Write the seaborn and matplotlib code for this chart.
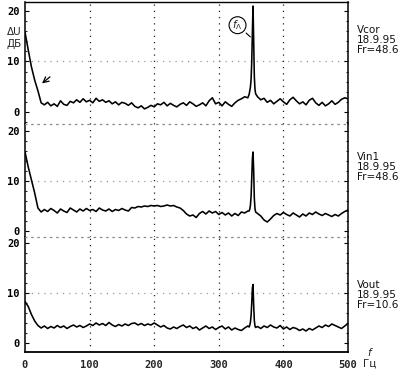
import numpy as np
import pandas as pd
import matplotlib
matplotlib.use("Agg")
import matplotlib.pyplot as plt
import seaborn as sns
from matplotlib.ticker import MultipleLocator

sns.set_style("white")
plt.rcParams['font.family'] = ['DejaVu Sans']

# frequency grid: coarse band, fine band around the line, coarse band
freq = np.concatenate([np.arange(0, 350, 5), np.arange(347, 358, 1), np.arange(360, 505, 5)])

vcor = [15.8, 12.3, 8.9, 6.3, 4.2, 1.8, 1.4, 1.9, 1.2, 1.6,
        1.1, 2.2, 1.5, 1.3, 2.1, 1.8, 2.4, 1.9, 2.6, 2.0,
        2.3, 1.8, 2.7, 2.1, 2.4, 1.9, 2.2, 1.6, 2.0, 1.4,
        1.9, 1.7, 1.3, 1.8, 1.1, 0.8, 1.2, 0.6, 0.9, 1.3,
        1.0, 1.6, 1.4, 1.9, 1.2, 1.7, 1.3, 1.0, 1.5, 1.8,
        1.3, 2.0, 1.6, 1.1, 1.4, 1.8, 1.2, 2.2, 2.8, 1.6,
        1.9, 1.2, 2.0, 1.5, 1.1, 1.8, 2.3, 2.6, 3.0, 2.8,
        3.5, 4.2, 5.0, 6.5, 10.0, 16.0, 21.0, 14.0, 7.0, 4.5, 3.6,
        3.0, 2.4, 2.7, 1.9, 2.3, 1.6, 2.1, 2.6, 2.0, 1.5,
        2.4, 2.9, 2.2, 1.6, 2.0, 1.4, 2.3, 2.7, 1.8, 1.3,
        1.9, 1.2, 1.6, 2.2, 1.5, 1.9, 2.5, 2.8, 2.6]

vin1 = [15.8, 12.8, 10.2, 7.6, 4.6, 3.8, 4.3, 3.9, 4.5, 4.1,
        3.6, 4.4, 4.0, 3.7, 4.6, 4.2, 3.8, 4.4, 4.0, 4.5,
        4.1, 4.3, 3.9, 4.6, 4.2, 4.0, 4.4, 3.9, 4.3, 4.1,
        4.5, 4.2, 4.0, 4.7, 4.6, 4.9, 4.8, 5.0, 4.9, 5.1,
        5.0, 5.1, 4.9, 5.0, 5.2, 5.0, 5.1, 4.8, 4.6, 4.1,
        3.4, 3.0, 3.2, 2.7, 3.5, 3.9, 3.4, 4.0, 3.6, 3.9,
        3.3, 3.7, 3.2, 3.6, 3.0, 3.5, 3.1, 3.8, 3.6, 4.0,
        4.0, 4.4, 5.2, 7.0, 10.5, 14.5, 15.8, 12.0, 6.5, 4.5, 3.8,
        3.5, 3.0, 2.2, 1.8, 2.4, 3.1, 3.5, 3.2, 3.7, 3.3,
        3.0, 3.6, 3.2, 2.8, 3.4, 3.0, 3.6, 3.3, 3.8, 3.4,
        3.1, 3.5, 3.2, 2.9, 3.3, 3.0, 3.5, 3.9, 4.2]

vout = [8.3, 7.3, 5.7, 4.4, 3.5, 3.0, 3.4, 2.9, 3.3, 3.0,
        3.5, 3.1, 3.4, 2.9, 3.3, 3.6, 3.2, 3.5, 3.1, 3.4,
        3.8, 3.5, 4.0, 3.6, 3.9, 3.5, 4.1, 3.6, 3.3, 3.7,
        3.4, 3.8, 3.5, 3.9, 4.0, 3.6, 3.9, 3.5, 3.8, 3.6,
        4.0, 3.6, 3.2, 3.5, 3.0, 2.8, 3.2, 2.9, 3.3, 3.6,
        3.1, 3.4, 2.9, 3.2, 2.6, 3.0, 3.4, 2.9, 3.2, 2.7,
        3.1, 3.4, 2.8, 3.2, 2.6, 3.0, 2.7, 2.5, 3.0, 3.4,
        3.2, 3.6, 4.2, 5.5, 8.0, 11.0, 11.7, 7.5, 4.5, 3.4, 3.1,
        3.3, 2.9, 3.4, 3.1, 3.6, 3.2, 3.0, 3.5, 2.8, 3.2,
        2.7, 3.1, 2.9, 2.5, 2.8, 2.4, 2.9, 2.6, 3.0, 3.4,
        3.1, 3.6, 3.3, 3.8, 3.5, 3.2, 2.9, 3.4, 3.9]

series = [vcor, vin1, vout]
names = ["Vcor", "Vin1", "Vout"]
dates = ["18.9.95", "18.9.95", "18.9.95"]
frs = ["Fr=48.6", "Fr=48.6", "Fr=10.6"]
x_ticks = [0, 100, 200, 300, 400, 500]
y_ticks = [0, 10, 20]

W, H = 404, 379
fig = plt.figure(figsize=(W / 100, H / 100), dpi=100)

# panel pixel extents (top, bottom) and y-limits
panels = [(2, 124, (-2.4, 21.8)), (124, 237, (-1.2, 21.4)), (237, 352, (-1.8, 21.2))]
left_px, right_px = 25, 348
text_y = [40, 167, 295]
mono = {'family': 'DejaVu Sans Mono', 'weight': 'bold', 'size': 7.5}

axes = []
for i, (top, bot, ylim) in enumerate(panels):
    ax = fig.add_axes([left_px / W, 1 - bot / H, (right_px - left_px) / W, (bot - top) / H])
    df = pd.DataFrame({'f': freq, 'v': series[i]})
    sns.lineplot(data=df, x='f', y='v', ax=ax, color='black', lw=1.15)
    ax.set_xlim(0, 500)
    ax.set_ylim(*ylim)
    ax.set_xlabel('')
    ax.set_ylabel('')
    for xv in x_ticks[1:-1]:
        ax.axvline(xv, color='#222222', lw=0.9, ls=(0, (1, 4)), zorder=0)
    ax.axhline(10, color='#999999', lw=0.9, ls=(0, (1, 4)), zorder=0)
    ax.set_yticks(y_ticks)
    ax.set_yticklabels([str(t) for t in y_ticks], fontdict=mono)
    ax.yaxis.set_minor_locator(MultipleLocator(2))
    ax.tick_params(axis='y', which='major', direction='in', length=3, width=0.8,
                   left=True, right=True, pad=4, colors='black')
    ax.tick_params(axis='y', which='minor', direction='in', length=1.5, width=0.8,
                   left=True, right=True)
    for s in ['left', 'right']:
        ax.spines[s].set_color('black')
        ax.spines[s].set_linewidth(1.1)
    if i == 0:
        ax.spines['top'].set_color('black')
        ax.spines['top'].set_linewidth(1.0)
    else:
        ax.spines['top'].set_color('#888888')
        ax.spines['top'].set_linestyle((0, (1, 4)))
        ax.spines['top'].set_linewidth(0.9)
    if i == 2:
        ax.spines['bottom'].set_color('black')
        ax.spines['bottom'].set_linewidth(1.3)
        ax.set_xticks(x_ticks)
        ax.set_xticklabels([str(t) for t in x_ticks], fontdict=mono)
        ax.tick_params(axis='x', length=0, pad=6)
    else:
        ax.spines['bottom'].set_visible(False)
        ax.set_xticks(x_ticks)
        ax.tick_params(axis='x', length=0, labelbottom=False)
    fig.text(357 / W, 1 - text_y[i] / H, f"{names[i]}\n{dates[i]}\n{frs[i]}",
             fontsize=7.5, va='center', ha='left', linespacing=1.0, color='#111111')
    axes.append(ax)

ax0 = axes[0]
ax0.annotate(r"$f_\Lambda$", xy=(352, 14.5), xytext=(329, 17.2), fontsize=7.5,
             ha='center', va='center',
             bbox=dict(boxstyle='circle,pad=0.15', fc='white', ec='black', lw=0.8),
             arrowprops=dict(arrowstyle='-', color='black', lw=0.8))
ax0.annotate("", xy=(23, 5.3), xytext=(42, 7.3),
             arrowprops=dict(arrowstyle='->', color='black', lw=0.9))

fig.text(14 / W, 1 - 38 / H, "ΔU\nДБ", fontsize=7.5, ha='center', va='center', linespacing=1.2)
fig.text(369 / W, 1 - 353 / H, "f", fontsize=7.5, ha='center', va='center', style='italic')
fig.text(370 / W, 1 - 364 / H, "Гц", fontsize=7.5, ha='center', va='center')

fig.savefig("out.png", dpi=100)
